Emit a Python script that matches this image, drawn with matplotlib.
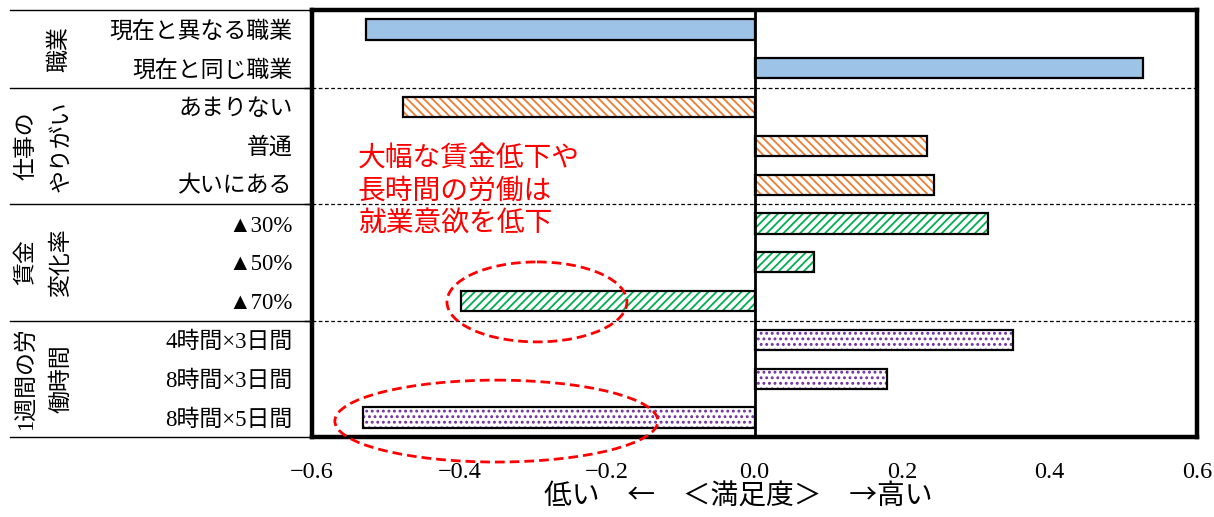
import numpy as np
import matplotlib.pyplot as plt
import matplotlib.transforms as mtransforms
from matplotlib.patches import Ellipse

plt.rcParams['font.family'] = ['Liberation Serif', 'Noto Sans CJK JP', 'DejaVu Sans']
plt.rcParams['hatch.linewidth'] = 1.3

labels = ['現在と異なる職業', '現在と同じ職業', 'あまりない', '普通', '大いにある',
          '▲30%', '▲50%', '▲70%', '4時間×3日間', '8時間×3日間', '8時間×5日間']
values = [-0.527, 0.527, -0.477, 0.234, 0.243, 0.317, 0.081, -0.398, 0.351, 0.180, -0.531]
group_names = ['職業', '仕事の\nやりがい', '賃金\n変化率', '1週間の労\n働時間']
group_sizes = [2, 3, 3, 3]
xticks = [-0.6, -0.4, -0.2, 0.0, 0.2, 0.4, 0.6]

# fill, hatch colour, hatch per group
styles = [('#9DC3E6', None, None),
          ('white', '#ED7D31', '\\\\\\\\'),
          ('white', '#00B050', '////'),
          ('white', '#7030A0', '...')]

W, H = 1214, 517
fig = plt.figure(figsize=(W / 100, H / 100), dpi=100)
ax = fig.add_axes([312 / W, 1 - 437 / H, (1197 - 312) / W, (437 - 10) / H])

y = np.arange(len(labels))
vals = np.array(values)
grp = np.repeat(np.arange(len(group_sizes)), group_sizes)

for g, (face, hc, hatch) in enumerate(styles):
    m = grp == g
    if hatch is None:
        ax.barh(y[m], vals[m], height=0.52, color=face, edgecolor='black', lw=1.6, zorder=2)
    else:
        ax.barh(y[m], vals[m], height=0.52, color=face, edgecolor=hc, hatch=hatch, lw=0, zorder=2)
        ax.barh(y[m], vals[m], height=0.52, fill=False, edgecolor='black', lw=1.6, zorder=2.5)

ax.axvline(0, color='black', lw=2, zorder=3)

bounds = np.cumsum(group_sizes)[:-1] - 0.5
for b in bounds:
    ax.axhline(b, color='black', ls=(0, (3, 2)), lw=0.9, zorder=1)

ax.set_xlim(-0.6, 0.6)
ax.set_ylim(len(labels) - 0.5, -0.5)
ax.set_xticks(xticks, [f'{t:.1f}'.replace('-', '\u2212') for t in xticks])
ax.set_yticks(y, labels)
ax.set_yticks(bounds, minor=True)
ax.tick_params(axis='x', length=0, pad=18, labelsize=17.5)
ax.tick_params(axis='y', which='major', length=0, pad=14, labelsize=16.5)
ax.tick_params(axis='y', which='minor', length=6, width=1, direction='out')
for s in ax.spines.values():
    s.set_linewidth(3.2)

# left table
blend = mtransforms.blended_transform_factory(fig.transFigure, ax.transData)
edges = [-0.5] + list(bounds) + [len(labels) - 0.5]
for e in edges:
    ax.plot([10 / W, 312 / W], [e, e], transform=blend, color='black', lw=1, clip_on=False)
starts = np.concatenate([[0], np.cumsum(group_sizes)[:-1]])
for name, st, n in zip(group_names, starts, group_sizes):
    xg = 60 / W if '\n' not in name else 44 / W
    fig_y = st + (n - 1) / 2
    ax.text(xg, fig_y, name, transform=blend, rotation=90, ha='center', va='center',
            multialignment='center', fontsize=16.5, linespacing=1.85)

# annotations
ax.text(-0.538, 4.16, '大幅な賃金低下や\n長時間の労働は\n就業意欲を低下', color='#FF0000',
        fontsize=20, family='Noto Sans CJK JP', ha='left', va='center', linespacing=1.1)
ax.add_patch(Ellipse((-0.295, 7.02), 0.244, 2.06, fill=False, edgecolor='#FF0000',
                     ls=(0, (3.5, 1.8)), lw=2, clip_on=False, zorder=4))
ax.add_patch(Ellipse((-0.350, 10.09), 0.438, 2.11, fill=False, edgecolor='#FF0000',
                     ls=(0, (3.5, 1.8)), lw=2, clip_on=False, zorder=4))

fig.text(738 / W, 1 - 497 / H, '低い　←　＜満足度＞　→高い', ha='center', va='center',
         fontsize=20, family=['Noto Sans CJK JP', 'DejaVu Sans'])

fig.savefig('out.png', dpi=100)
